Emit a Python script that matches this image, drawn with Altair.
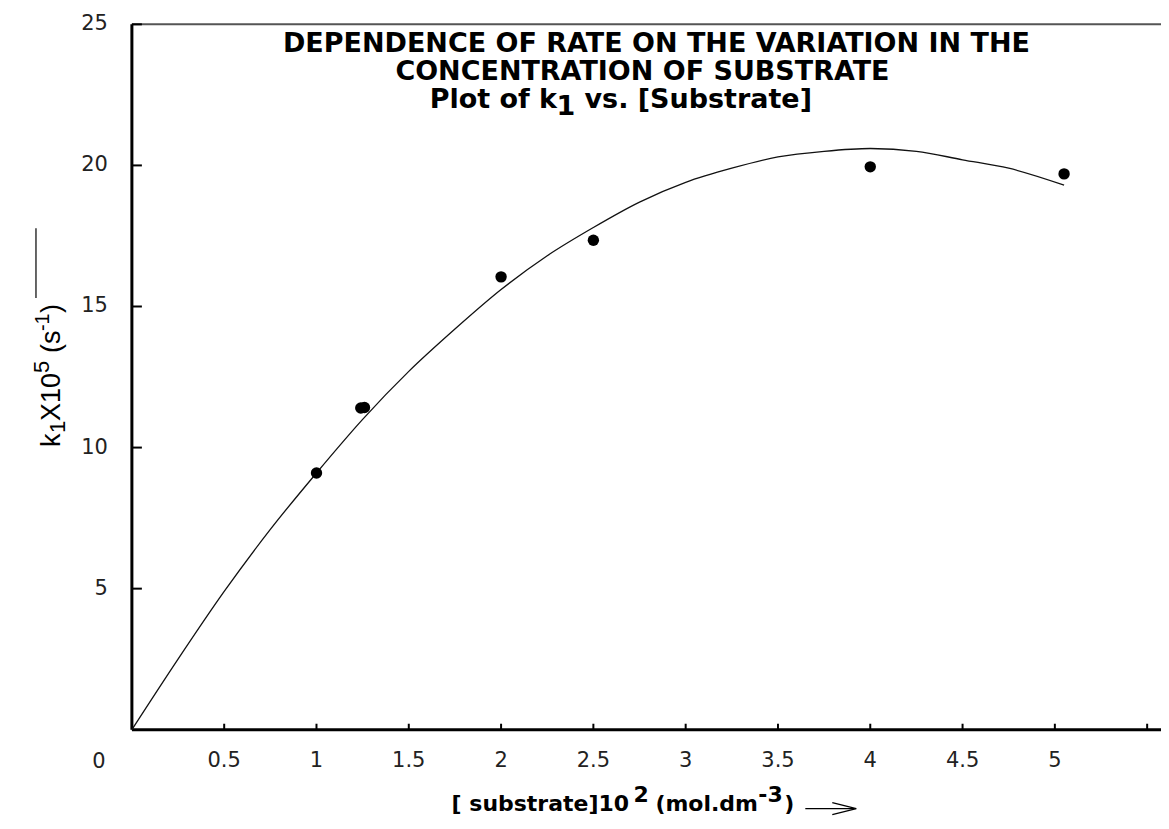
import altair as alt
import pandas as pd

# ---- data ----
x_ticks = [0.5, 1, 1.5, 2, 2.5, 3, 3.5, 4, 4.5, 5, 5.5]
x_tick_labels = ["0.5", "1", "1.5", "2", "2.5", "3", "3.5", "4", "4.5", "5"]
x_label_pos = [0.5, 1, 1.5, 2, 2.5, 3, 3.5, 4, 4.5, 5]
y_ticks = [5, 10, 15, 20, 25]
y_tick_labels = ["5", "10", "15", "20", "25"]

conc = [1.0, 1.24, 1.26, 2.0, 2.5, 4.0, 5.05]
k1 = [9.1, 11.4, 11.42, 16.05, 17.35, 19.95, 19.7]

fit_x = [0, 0.25, 0.5, 0.75, 1.0, 1.25, 1.5, 1.75, 2.0, 2.25, 2.5, 2.75, 3.0,
         3.25, 3.5, 3.75, 4.0, 4.25, 4.5, 4.75, 5.05]
fit_y = [0, 2.5, 4.9, 7.1, 9.1, 11.0, 12.7, 14.2, 15.6, 16.8, 17.8, 18.7, 19.4,
         19.9, 20.3, 20.5, 20.6, 20.5, 20.2, 19.9, 19.3]

title_lines = ["DEPENDENCE OF RATE ON THE VARIATION IN THE",
               "CONCENTRATION OF SUBSTRATE"]

# ---- layout ----
W, H = 1030, 706
X0, Y0 = 132, 24          # absolute page position of plot origin (top-left)
XMAX = 5.575
FONT = "DejaVu Sans"
YFONT = "Liberation Sans"

xs = alt.Scale(domain=[0, XMAX], nice=False, zero=False)
ys = alt.Scale(domain=[0, 25], nice=False, zero=False)

one = alt.Data(values=[{"a": 1}])


def txt(s, ax, ay, size, bold=False, angle=0, align="left", baseline="alphabetic",
        color="black", font=FONT):
    return alt.Chart(alt.Data(values=[{"t": s}])).mark_text(
        font=font, fontSize=size, fontWeight="bold" if bold else "normal",
        angle=angle, align=align, baseline=baseline, color=color
    ).encode(x=alt.value(ax - X0), y=alt.value(ay - Y0), text="t:N")


def seg(ax1, ay1, ax2, ay2, width=1.5, color="black"):
    return alt.Chart(one).mark_rule(color=color, strokeWidth=width).encode(
        x=alt.value(ax1 - X0), y=alt.value(ay1 - Y0),
        x2=alt.value(ax2 - X0), y2=alt.value(ay2 - Y0))


layers = []

# frame
layers.append(seg(X0, Y0, 1169, Y0, width=2, color="#555555"))
layers.append(seg(X0, Y0, X0, Y0 + H, width=3))
layers.append(seg(X0, Y0 + H, X0 + W, Y0 + H, width=3))

# ticks (inward)
xt = pd.DataFrame({"v": x_ticks})
layers.append(alt.Chart(xt).mark_rule(color="black", strokeWidth=2).encode(
    x=alt.X("v:Q", scale=xs, axis=None), y=alt.value(H), y2=alt.value(H - 6)))
yt = pd.DataFrame({"v": y_ticks})
layers.append(alt.Chart(yt).mark_rule(color="black", strokeWidth=2).encode(
    y=alt.Y("v:Q", scale=ys, axis=None), x=alt.value(0), x2=alt.value(10)))

# tick labels
xl = pd.DataFrame({"v": x_label_pos, "t": x_tick_labels})
layers.append(alt.Chart(xl).mark_text(font=FONT, fontSize=21, color="#222222",
                                      baseline="middle", align="center").encode(
    x=alt.X("v:Q", scale=xs, axis=None), y=alt.value(737), text="t:N"))
yl = pd.DataFrame({"v": y_ticks, "t": y_tick_labels})
layers.append(alt.Chart(yl).mark_text(font=FONT, fontSize=21, color="#222222",
                                      baseline="middle", align="right").encode(
    y=alt.Y("v:Q", scale=ys, axis=None), x=alt.value(-24), text="t:N"))
layers.append(txt("0", 99, 762, 21, align="center", baseline="middle", color="#222222"))

# fitted curve
fit = pd.DataFrame({"x": fit_x, "y": fit_y})
layers.append(alt.Chart(fit).mark_line(color="#111111", strokeWidth=1.3,
                                       interpolate="monotone").encode(
    x=alt.X("x:Q", scale=xs, axis=None), y=alt.Y("y:Q", scale=ys, axis=None)))

# data points
pts = pd.DataFrame({"x": conc, "y": k1})
layers.append(alt.Chart(pts).mark_point(filled=True, color="black", size=130,
                                        opacity=1, shape="circle").encode(
    x=alt.X("x:Q", scale=xs, axis=None), y=alt.Y("y:Q", scale=ys, axis=None)))

# titles
layers.append(txt(title_lines[0], 657, 52, 27, bold=True, align="center"))
layers.append(txt(title_lines[1], 643, 80, 27, bold=True, align="center"))
layers.append(txt("Plot of k", 430, 108, 27, bold=True))
layers.append(txt("1", 557, 115, 27, bold=True))
layers.append(txt("vs. [Substrate]", 585, 108, 27, bold=True))

# x axis title
layers.append(txt("[ substrate]10", 452, 811, 22, bold=True))
layers.append(txt("2", 634, 802, 22, bold=True))
layers.append(txt("(mol.dm", 656, 811, 22, bold=True))
layers.append(txt("-3", 759, 802, 22, bold=True))
layers.append(txt(")", 785, 811, 22, bold=True))
layers.append(seg(806, 809, 855, 809, width=1.2))
layers.append(seg(833, 803, 857, 809, width=1.2))
layers.append(seg(833, 815, 857, 809, width=1.2))

# y axis title (rotated)
layers.append(txt("k", 60, 447, 27, angle=270, font=YFONT))
layers.append(txt("1", 65, 433, 22, angle=270, font=YFONT))
layers.append(txt("X10", 60, 421, 27, angle=270, font=YFONT))
layers.append(txt("5", 49, 373, 22, angle=270, font=YFONT))
layers.append(txt("(s", 60, 353, 27, angle=270, font=YFONT))
layers.append(txt("-1", 49, 331, 20, angle=270, font=YFONT))
layers.append(txt(")", 60, 313, 27, angle=270, font=YFONT))
layers.append(seg(36, 298, 36, 228, width=1.2))

chart = alt.layer(*layers).properties(
    width=W, height=H,
    padding={"left": X0 - 8, "top": Y0 - 8, "right": 0, "bottom": 92},
    autosize=alt.AutoSizeParams(type="none"),
).configure_view(stroke=None)

chart.save("out.html", embed_options={"renderer": "svg", "actions": False})
